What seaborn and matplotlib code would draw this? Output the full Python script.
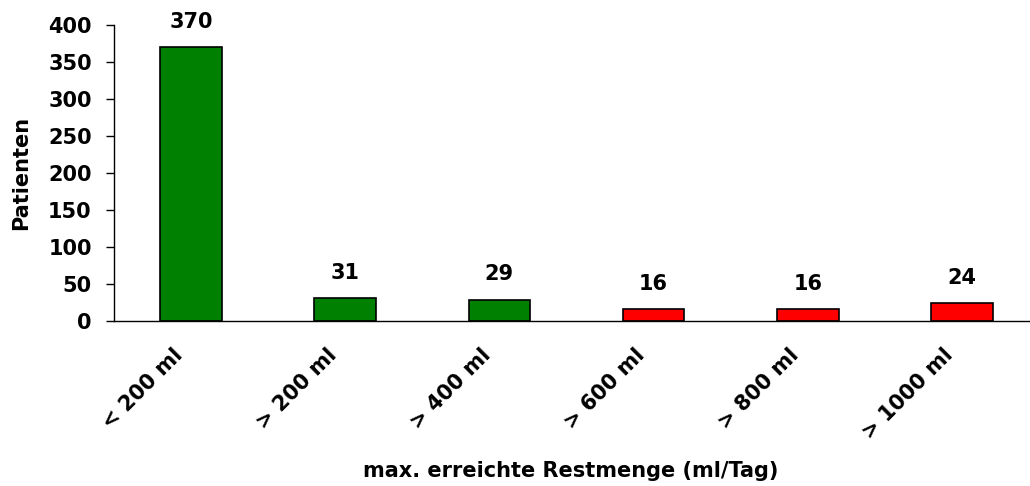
import matplotlib
matplotlib.use("Agg")
import matplotlib.pyplot as plt
import matplotlib.transforms as mtransforms
import seaborn as sns
import numpy as np

categories = ["< 200 ml", "> 200 ml", "> 400 ml", "> 600 ml", "> 800 ml", "> 1000 ml"]
patients = [370, 31, 29, 16, 16, 24]
bar_colors = ["#008000", "#008000", "#008000", "#FF0000", "#FF0000", "#FF0000"]
y_ticks = [0, 50, 100, 150, 200, 250, 300, 350, 400]

sns.set_theme(style="white")
plt.rcParams["font.family"] = ["DejaVu Sans"]
plt.rcParams["font.weight"] = "bold"
plt.rcParams["text.color"] = "black"
plt.rcParams["axes.labelcolor"] = "black"
plt.rcParams["xtick.color"] = "black"
plt.rcParams["ytick.color"] = "black"

FS = 15

fig = plt.figure(figsize=(10.30, 4.86), dpi=100)
ax = fig.add_axes([114 / 1030, 1 - 321 / 486, 925 / 1030, 296 / 486])

sns.barplot(x=categories, y=patients, hue=categories, palette=bar_colors,
            legend=False, width=0.4, edgecolor="black", linewidth=1.2,
            saturation=1, ax=ax)

ax.set_xlim(-0.5, len(categories) - 0.5)
ax.set_ylim(0, 400)
ax.set_yticks(y_ticks)
ax.set_yticklabels([str(t) for t in y_ticks], fontsize=FS, fontweight="bold")

# category boundaries carry the tick marks, labels sit at the centres
ax.set_xticks(np.arange(-0.5, len(categories), 1.0))
ax.set_xticklabels([])
ax.set_xticks(np.arange(len(categories)), minor=True)
ax.set_xticklabels(categories, minor=True, rotation=45, ha="right", va="center",
                   rotation_mode="anchor", fontsize=FS, fontweight="bold")
ax.tick_params(axis="x", which="major", direction="out", length=6, width=1, color="black")
ax.tick_params(axis="x", which="minor", length=0, pad=22)
ax.tick_params(axis="y", direction="out", length=6, width=1, color="black", pad=10, left=True)

shift = mtransforms.ScaledTranslation(-12 / 100, 0, fig.dpi_scale_trans)
for lbl in ax.get_xticklabels(minor=True):
    lbl.set_transform(lbl.get_transform() + shift)

for s in ["top", "right"]:
    ax.spines[s].set_visible(False)
for s in ["left", "bottom"]:
    ax.spines[s].set_color("black")
    ax.spines[s].set_linewidth(1)

for i, v in enumerate(patients):
    ax.annotate(str(v), (i, v), xytext=(0, 11), textcoords="offset points",
                ha="center", va="bottom", fontsize=FS, fontweight="bold")

fig.text(21 / 1030, 1 - 173 / 486, "Patienten", rotation=90,
         ha="center", va="center", fontsize=FS, fontweight="bold")
fig.text(571 / 1030, 1 - 471 / 486, "max. erreichte Restmenge (ml/Tag)",
         ha="center", va="center", fontsize=FS, fontweight="bold")

fig.savefig("out.png", dpi=100)
